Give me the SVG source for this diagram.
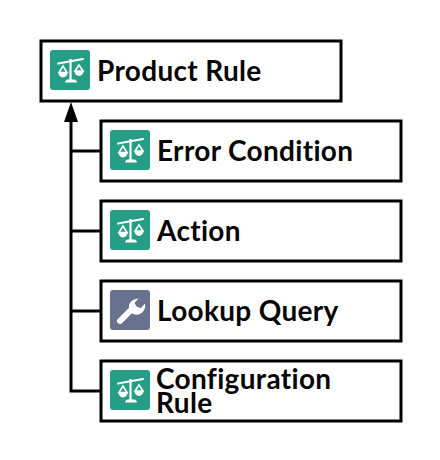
<svg xmlns="http://www.w3.org/2000/svg" width="440" height="460" viewBox="0 0 440 460">
<defs>
<style>
.box{fill:#fff;stroke:#000;stroke-width:3}
.t{font-family:"Lato","Open Sans",sans-serif;font-size:28px;font-weight:700;letter-spacing:.32px;font-variant-ligatures:none;fill:#080707}
.w{stroke:#000;stroke-width:3;fill:none}
.g{fill:#259e85}
.s{fill:#68728f}
</style>
<g id="scale">
<path d="M8 13.500 L33 9" stroke="#fff" stroke-width="2" stroke-linecap="round" fill="none"/>
<path d="M20.500 9V30" stroke="#fff" stroke-width="2.200" fill="none"/>
<path d="M13 16L9 22.500H17Z M29 15L25 21H33Z" fill="none" stroke="#fff" stroke-width="1.600"/>
<path d="M8.500 22.500H17.500A4.500 5 0 0 1 8.500 22.500Z M24.500 21H33.500A4.500 5 0 0 1 24.500 21Z" fill="#fff"/>
<path d="M15 32.500Q15.500 29.500 18 29.500H24Q26.500 29.500 27 32.500Z" fill="#fff"/>
</g>
</defs>
<g id="connectors">
<path class="w" d="M71 118V391H101M71 151H101M71 231H101M71 311H101"/>
<path d="M71 102L78 122H64Z" fill="#000"/>
</g>
<g id="product-rule">
<rect class="box" x="41" y="41" width="300" height="60"/>
<rect class="g" x="50" y="50" width="40" height="40" rx="3"/>
<use href="#scale" x="50" y="50"/>
<text class="t" x="97" y="81">Product Rule</text>
</g>
<g id="error-condition">
<rect class="box" x="101" y="121" width="300" height="60"/>
<rect class="g" x="110" y="130" width="40" height="40" rx="3"/>
<use href="#scale" x="110" y="130"/>
<text class="t" x="157" y="161">Error Condition</text>
</g>
<g id="action">
<rect class="box" x="101" y="201" width="300" height="60"/>
<rect class="g" x="110" y="210" width="40" height="40" rx="3"/>
<use href="#scale" x="110" y="210"/>
<text class="t" x="157" y="241">Action</text>
</g>
<g id="lookup-query">
<rect class="box" x="101" y="281" width="300" height="60"/>
<rect class="s" x="110" y="290" width="40" height="40" rx="3"/>
<path d="M120 321L132 309" stroke="#fff" stroke-width="6" stroke-linecap="round" fill="none"/>
<path d="M130 311A8 8 0 0 1 136 299L138.500 298.500L134.500 303L137 307L141 308L145 303.500A9 9 0 0 1 133 314Z" fill="#fff"/>
<text class="t" x="157" y="321">Lookup Query</text>
</g>
<g id="configuration-rule">
<rect class="box" x="101" y="361" width="300" height="60"/>
<rect class="g" x="110" y="370" width="40" height="40" rx="3"/>
<use href="#scale" x="110" y="370"/>
<text class="t" x="156" y="389">Configuration<tspan x="156" y="413">Rule</tspan></text>
</g>
</svg>
